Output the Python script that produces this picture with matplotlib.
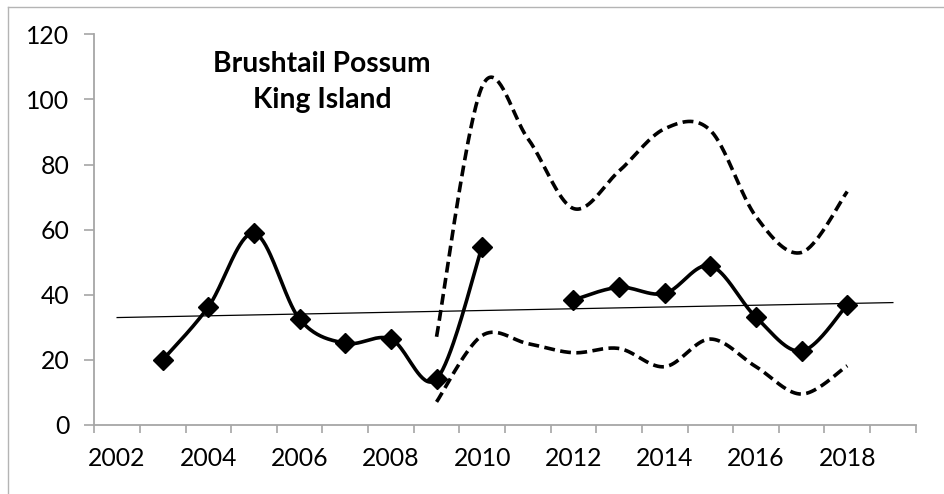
import numpy as np
import matplotlib
matplotlib.use("Agg")
import matplotlib.pyplot as plt
from matplotlib.lines import Line2D
from matplotlib.ticker import FixedLocator, NullFormatter

# ---- data ----
years = list(range(2003, 2019))
counts = [20.0, 36.3, 58.9, 32.5, 25.1, 26.4, 14.1, 54.8, np.nan,
          38.4, 42.3, 40.4, 48.9, 33.1, 22.7, 36.9]
ci_years = list(range(2009, 2019))
upper = [27.1, 104.0, 88.0, 66.5, 78.0, 91.0, 90.5, 64.0, 53.0, 71.7]
lower = [7.1, 27.5, 25.0, 22.2, 23.5, 17.9, 26.4, 17.9, 9.5, 18.2]
trend_years = [2002, 2019]
trend_values = [33.0, 37.6]
year_labels = list(range(2002, 2019, 2))
y_ticks = [0, 20, 40, 60, 80, 100, 120]
title = "Brushtail Possum\nKing Island"

FONT = "Lato"
plt.rcParams['font.family'] = [FONT, 'DejaVu Sans']


def smooth(xs, ys, n=40):
    """Excel-style smoothed line (Catmull-Rom Bezier) through the points,
    split at missing values."""
    xs = np.asarray(xs, float)
    ys = np.asarray(ys, float)
    segs = []
    cur = []
    for x, y in zip(xs, ys):
        if np.isnan(y):
            if cur:
                segs.append(cur)
            cur = []
        else:
            cur.append((x, y))
    if cur:
        segs.append(cur)
    out = []
    for seg in segs:
        P = np.array(seg)
        if len(P) < 2:
            out.append((P[:, 0], P[:, 1]))
            continue
        px, py = [], []
        m = len(P)
        t = np.linspace(0, 1, n)
        for i in range(m - 1):
            p0 = P[max(i - 1, 0)]
            p1 = P[i]
            p2 = P[i + 1]
            p3 = P[min(i + 2, m - 1)]
            c1 = p1 + (p2 - p0) / 6.0
            c2 = p2 - (p3 - p1) / 6.0
            b = ((1 - t) ** 3)[:, None] * p1 + (3 * (1 - t) ** 2 * t)[:, None] * c1 \
                + (3 * (1 - t) * t ** 2)[:, None] * c2 + (t ** 3)[:, None] * p2
            if i > 0:
                b = b[1:]
            px.extend(b[:, 0])
            py.extend(b[:, 1])
        out.append((np.array(px), np.array(py)))
    return out


W, H = 944, 494
fig = plt.figure(figsize=(W / 100, H / 100), dpi=100)
ax = fig.add_axes([94.3 / W, 1 - 425 / H, (915.7 - 94.3) / W, (425 - 34.3) / H])

# confidence bounds (dashed)
for series in (upper, lower):
    for sx, sy in smooth(ci_years, series):
        ax.plot(sx, sy, color='black', lw=2.6, dashes=(3.0, 1.5),
                solid_capstyle='butt', dash_capstyle='butt', zorder=3)

# main series (smoothed line + diamonds)
for sx, sy in smooth(years, counts):
    ax.plot(sx, sy, color='black', lw=2.6, zorder=4, solid_joinstyle='round')
ax.plot(years, counts, linestyle='none', marker='D', markersize=10,
        color='black', zorder=5)

# linear trend line
ax.plot(trend_years, trend_values, color='black', lw=0.9, zorder=2)

ax.set_xlim(2001.5, 2019.5)
ax.set_ylim(0, 120)

grey = '#a6a6a6'
for s in ('top', 'right'):
    ax.spines[s].set_visible(False)
for s in ('left', 'bottom'):
    ax.spines[s].set_color(grey)
    ax.spines[s].set_linewidth(1.3)

ax.set_yticks(y_ticks)
ax.set_yticklabels([str(v) for v in y_ticks])
ax.tick_params(axis='y', direction='out', length=7, width=1.2, color=grey,
               pad=11, labelsize=17.8, labelcolor='black')

major = np.arange(2001.5, 2020.0, 1.0)
ax.xaxis.set_major_locator(FixedLocator(major))
ax.xaxis.set_major_formatter(NullFormatter())
ax.tick_params(axis='x', which='major', direction='out', length=6, width=1.2,
               color=grey)
ax.xaxis.set_minor_locator(FixedLocator(year_labels))
ax.set_xticklabels([str(v) for v in year_labels], minor=True)
ax.tick_params(axis='x', which='minor', length=0, pad=16, labelsize=17.8,
               labelcolor='black')

fig.text(322 / W, 1 - 82 / H, title, ha='center', va='center',
         fontsize=20.3, fontweight='bold', linespacing=1.45, family=FONT)

# outer chart border (left and top visible)
bc = '#b4b4b4'
fig.add_artist(Line2D([7.5 / W, 7.5 / W], [0, 1 - 7.5 / H], transform=fig.transFigure,
                      color=bc, lw=1.0))
fig.add_artist(Line2D([7.5 / W, 1], [1 - 7.5 / H, 1 - 7.5 / H], transform=fig.transFigure,
                      color=bc, lw=1.0))

fig.savefig('out.png', dpi=100, facecolor='white')
